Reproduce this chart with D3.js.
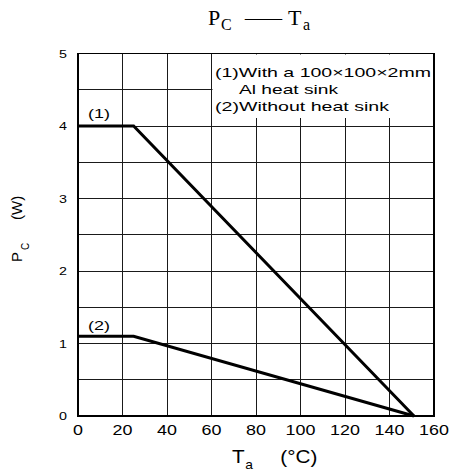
<!DOCTYPE html>
<html>
<head>
<meta charset="utf-8">
<script src="https://cdn.jsdelivr.net/npm/d3@7"></script>
<style>
  html, body { margin: 0; padding: 0; background: #fff; }
  svg { display: block; }
</style>
</head>
<body>
<svg id="chart" width="452" height="476"></svg>
<script>
// ---- data ----
const xTicks = [0, 20, 40, 60, 80, 100, 120, 140, 160];
const yTicks = [0, 1, 2, 3, 4, 5];
const yGrid = [0, 0.5, 1, 1.5, 2, 2.5, 3, 3.5, 4, 4.5, 5];
const series1T = [0, 25, 151];
const series1P = [4, 4, 0];
const series2T = [0, 25, 151];
const series2P = [1.1, 1.1, 0];
const seriesLabels = ["(1)", "(2)"];
const legendLines = ["(1)With a 100\u00d7100\u00d72mm", "Al heat sink", "(2)Without heat sink"];

// ---- layout ----
const svg = d3.select("#chart");
const x = d3.scaleLinear().domain([0, 160]).range([78, 434]);
const y = d3.scaleLinear().domain([0, 5]).range([416, 53.5]);
const sans = "'Liberation Sans', Arial, Helvetica, sans-serif";
const serif = "'Liberation Serif', 'Times New Roman', serif";
const gridColor = "#1a1a1a";

// grid
const grid = svg.append("g").attr("shape-rendering", "crispEdges");
grid.selectAll("line.v").data(xTicks).join("line")
  .attr("x1", d => x(d)).attr("x2", d => x(d))
  .attr("y1", y(5)).attr("y2", y(0))
  .attr("stroke", gridColor).attr("stroke-width", 1);
grid.selectAll("line.h").data(yGrid).join("line")
  .attr("x1", x(0)).attr("x2", x(160))
  .attr("y1", d => y(d)).attr("y2", d => y(d))
  .attr("stroke", gridColor).attr("stroke-width", 1);

// legend background (covers grid)
svg.append("rect")
  .attr("x", x(60) + 1).attr("y", y(5) + 1)
  .attr("width", x(160) - x(60) - 2).attr("height", 117 - y(5))
  .attr("fill", "#fff");

// border
svg.append("rect")
  .attr("x", x(0)).attr("y", y(5))
  .attr("width", x(160) - x(0)).attr("height", y(0) - y(5))
  .attr("fill", "none").attr("stroke", "#000").attr("stroke-width", 1.2)
  .attr("shape-rendering", "crispEdges");

// data lines
const line = d3.line().x(d => x(d[0])).y(d => y(d[1]));
const s1 = series1T.map((t, i) => [t, series1P[i]]);
const s2 = series2T.map((t, i) => [t, series2P[i]]);
[s1, s2].forEach(s => {
  svg.append("path").datum(s).attr("d", line)
    .attr("fill", "none").attr("stroke", "#000")
    .attr("stroke-width", 3).attr("stroke-linejoin", "miter");
});

// helper for horizontally stretched text
function stext(txt, px, py, size, sx, anchor, family) {
  const g = svg.append("g").attr("transform", `translate(${px},${py}) scale(${sx},1)`);
  g.append("text").attr("x", 0).attr("y", 0)
    .attr("font-family", family || sans).attr("font-size", size)
    .attr("text-anchor", anchor || "start").attr("fill", "#000").text(txt);
  return g;
}

// series labels
stext(seriesLabels[0], x(0) + 10, y(4) - 8.5, 12, 1.5, "start");
stext(seriesLabels[1], x(0) + 10, y(1.1) - 6.5, 12, 1.5, "start");

// x tick labels
xTicks.forEach(t => stext(String(t), x(t), 435, 14, 1.28, "middle"));
// y tick labels
yTicks.forEach(v => stext(String(v), 67, y(v) + 4, 11, 1.3, "end"));

// legend text
const legX = [215, 239, 215];
const legY = [77, 94, 111];
const legW = [216, 99, 174];
legendLines.forEach((t, i) => {
  svg.append("text").attr("x", legX[i]).attr("y", legY[i])
    .attr("font-family", sans).attr("font-size", 13)
    .attr("textLength", legW[i]).attr("lengthAdjust", "spacingAndGlyphs")
    .attr("fill", "#000").text(t);
});

// title  P_C —— T_a
const title = svg.append("text").attr("font-family", serif).attr("fill", "#000");
title.append("tspan").attr("x", 208).attr("y", 25).attr("font-size", 22).text("P");
title.append("tspan").attr("x", 221).attr("y", 29.5).attr("font-size", 16).text("C");
title.append("tspan").attr("x", 245).attr("y", 25).attr("font-size", 22)
  .attr("textLength", 37).attr("lengthAdjust", "spacingAndGlyphs").text("\u2014");
title.append("tspan").attr("x", 288).attr("y", 25).attr("font-size", 22).text("T");
title.append("tspan").attr("x", 303).attr("y", 29.5).attr("font-size", 16).text("a");

// x axis title  T_a (°C)
const xt = svg.append("g").attr("transform", "translate(232,463) scale(1.15,1)");
const xtt = xt.append("text").attr("font-family", sans).attr("fill", "#000");
xtt.append("tspan").attr("x", 0).attr("y", 0).attr("font-size", 18).text("T");
xtt.append("tspan").attr("x", 11.5).attr("y", 6).attr("font-size", 12).text("a");
xtt.append("tspan").attr("x", 42).attr("y", 0).attr("font-size", 18).text("(\u00b0C)");

// y axis title  P_C (W)
const yt = svg.append("text").attr("font-family", sans).attr("fill", "#000")
  .attr("transform", "translate(22,262) rotate(-90)");
yt.append("tspan").attr("x", 0).attr("y", 0).attr("font-size", 15).text("P");
yt.append("tspan").attr("x", 12).attr("y", 7).attr("font-size", 10).text("C");
yt.append("tspan").attr("x", 42).attr("y", 0).attr("font-size", 15).text("(W)");
</script>
</body>
</html>
